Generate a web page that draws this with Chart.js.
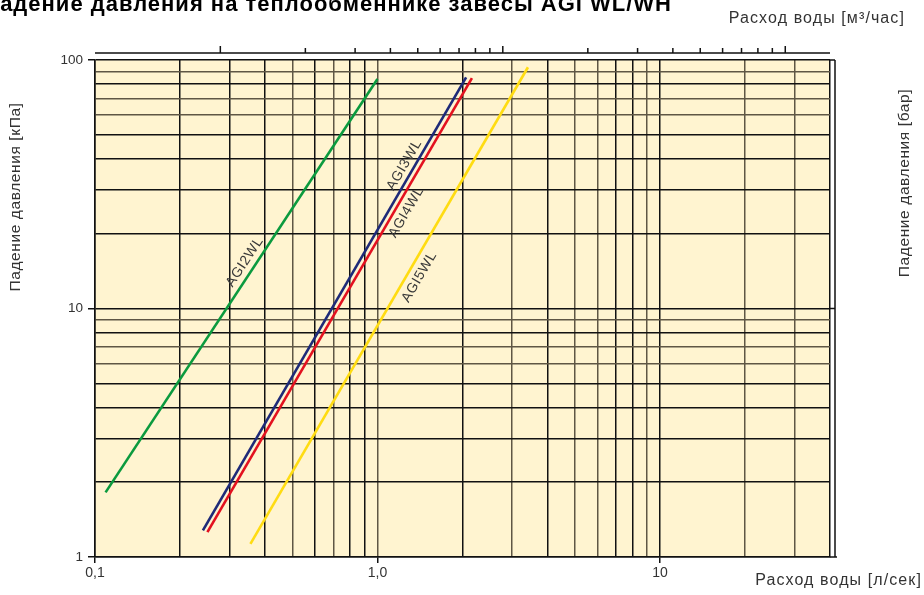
<!DOCTYPE html>
<html>
<head>
<meta charset="utf-8">
<script src="https://cdn.jsdelivr.net/npm/chart.js@4.4.1/dist/chart.umd.min.js"></script>
<style>
  html, body { margin: 0; padding: 0; background: #fff; }
  #wrap { width: 924px; height: 595px; position: relative; }
</style>
</head>
<body>
<div id="wrap"><canvas id="c" width="924" height="595"></canvas></div>
<script>
// curves: flow [l/s] vs pressure drop [kPa] (end points of straight log-log lines)
const seriesNames = ["AGI2WL", "AGI3WL", "AGI4WL", "AGI5WL"]
const seriesColors = ["#0b9a3e", "#1e2a78", "#e3111f", "#ffdc12"]
const agi2Flow = [0.109, 1.0]
const agi2Drop = [1.82, 83.9]
const agi3Flow = [0.241, 2.06]
const agi3Drop = [1.28, 85.2]
const agi4Flow = [0.250, 2.16]
const agi4Drop = [1.26, 84.6]
const agi5Flow = [0.355, 3.41]
const agi5Drop = [1.13, 93.5]

// where the curve names sit (l/s, kPa)
const labelFlow = [0.339, 1.246, 1.266, 1.408]
const labelDrop = [15.4, 37.8, 24.4, 13.4]

const xGridValues = [0.1, 0.2, 0.3, 0.4, 0.5, 0.6, 0.7, 0.8, 0.9, 1, 2, 3, 4, 5, 6, 7, 8, 9, 10, 20, 30, 40]
const yGridValues = [1, 2, 3, 4, 5, 6, 7, 8, 9, 10, 20, 30, 40, 50, 60, 70, 80, 90, 100]
const xGrayLines = [0.5, 0.7, 1, 3, 5, 6, 9, 20, 30]
const yGrayLines = [6, 7, 9, 60, 70, 90]
const xTickLabels = { "0.1": "0,1", "1": "1,0", "10": "10" }
const yTickLabels = { "1": "1", "10": "10", "100": "100" }

// top axis in m3/h
const topMajor = [1, 10, 100]
const topMinor = [2, 3, 4, 5, 6, 7, 8, 9, 20, 30, 40, 50, 60, 70, 80, 90]

const flows = [agi2Flow, agi3Flow, agi4Flow, agi5Flow]
const drops = [agi2Drop, agi3Drop, agi4Drop, agi5Drop]

const INK = "#111"
const GRAY = "#5f5644"
const TXT = "#333"
const FONT = "Liberation Sans, Arial, sans-serif"

const datasets = seriesNames.map((name, i) => ({
  label: name,
  data: flows[i].map((f, k) => ({ x: f, y: drops[i][k] })),
  borderColor: seriesColors[i],
  borderWidth: 2.6,
  pointRadius: 0,
  tension: 0,
  fill: false
}))

function spaced(ctx, px) {
  if ("letterSpacing" in ctx) ctx.letterSpacing = px + "px"
}

const decor = {
  id: "decor",
  beforeDraw(chart) {
    const { ctx, chartArea: a } = chart
    ctx.save()
    ctx.fillStyle = "#fff4d0"
    ctx.fillRect(a.left, a.top, a.right - a.left, a.bottom - a.top)
    ctx.restore()
  },
  afterDatasetsDraw(chart) {
    const { ctx } = chart
    const x = chart.scales.x, y = chart.scales.y
    ctx.save()
    ctx.fillStyle = "#3a3a3a"
    ctx.font = "14px " + FONT
    spaced(ctx, 0.6)
    ctx.textAlign = "center"
    ctx.textBaseline = "middle"
    seriesNames.forEach((name, i) => {
      const f = flows[i], d = drops[i]
      const ang = Math.atan2(y.getPixelForValue(d[1]) - y.getPixelForValue(d[0]),
                             x.getPixelForValue(f[1]) - x.getPixelForValue(f[0]))
      ctx.save()
      ctx.translate(x.getPixelForValue(labelFlow[i]), y.getPixelForValue(labelDrop[i]))
      ctx.rotate(ang)
      ctx.fillText(name, 0, 0)
      ctx.restore()
    })
    ctx.restore()
  },
  afterDraw(chart) {
    const { ctx, chartArea: a } = chart
    const x = chart.scales.x, y = chart.scales.y
    ctx.save()
    ctx.strokeStyle = INK
    ctx.lineWidth = 1.5

    // top axis, m3/h
    const topY = a.top - 7
    ctx.beginPath()
    ctx.moveTo(a.left, topY); ctx.lineTo(a.right, topY)
    topMajor.forEach(v => {
      const px = x.getPixelForValue(v / 3.6)
      ctx.moveTo(px, topY); ctx.lineTo(px, topY - 7)
    })
    topMinor.forEach(v => {
      const px = x.getPixelForValue(v / 3.6)
      ctx.moveTo(px, topY); ctx.lineTo(px, topY - 5)
    })
    ctx.stroke()

    // right axis, bar
    const rx = a.right + 5
    ctx.beginPath()
    ctx.moveTo(rx, a.top); ctx.lineTo(rx, a.bottom)
    ;[10, 100].forEach(v => {
      const py = y.getPixelForValue(v)
      ctx.moveTo(a.right, py); ctx.lineTo(rx, py)
    })
    ctx.moveTo(a.right, a.bottom); ctx.lineTo(a.right + 7, a.bottom)
    ctx.stroke()

    // titles
    ctx.fillStyle = "#000"
    ctx.font = "bold 22px " + FONT
    spaced(ctx, 1)
    ctx.textAlign = "right"
    ctx.textBaseline = "alphabetic"
    ctx.fillText("Падение давления на теплообменнике завесы AGI WL/WH", 672, 11)

    ctx.fillStyle = TXT
    ctx.font = "16px " + FONT
    spaced(ctx, 1.1)
    ctx.textAlign = "right"
    ctx.textBaseline = "middle"
    ctx.fillText("Расход воды [м³/час]", 905, 19)
    ctx.fillText("Расход воды [л/сек]", 922, 581)

    ctx.font = "15.5px " + FONT
    spaced(ctx, 0.6)
    ctx.textAlign = "center"
    ctx.save()
    ctx.translate(16, 197)
    ctx.rotate(-Math.PI / 2)
    ctx.fillText("Падение давления [кПа]", 0, 0)
    ctx.restore()
    ctx.save()
    ctx.translate(905, 183)
    ctx.rotate(-Math.PI / 2)
    ctx.fillText("Падение давления [бар]", 0, 0)
    ctx.restore()
    ctx.restore()
  }
}

new Chart(document.getElementById("c"), {
  type: "line",
  data: { datasets },
  plugins: [decor],
  options: {
    responsive: false,
    animation: false,
    layout: { padding: { top: 60, right: 94, left: 0, bottom: 0 } },
    plugins: { legend: { display: false }, tooltip: { enabled: false } },
    scales: {
      x: {
        type: "logarithmic",
        min: 0.1,
        max: 40,
        afterBuildTicks: s => { s.ticks = xGridValues.map(v => ({ value: v })) },
        afterFit: s => { s.height = 38 },
        border: { display: true, color: INK, width: 1.5 },
        grid: {
          color: c => xGrayLines.includes(c.tick && c.tick.value) ? GRAY : INK,
          lineWidth: 1.5,
          tickLength: 6,
          tickColor: c => (c.tick && xTickLabels[String(c.tick.value)]) ? INK : "rgba(0,0,0,0)",
          tickWidth: 1.5
        },
        ticks: {
          autoSkip: false,
          maxRotation: 0,
          padding: 2,
          color: TXT,
          font: { family: FONT, size: 14 },
          callback: v => xTickLabels[String(v)] || ""
        }
      },
      y: {
        type: "logarithmic",
        min: 1,
        max: 100,
        afterBuildTicks: s => { s.ticks = yGridValues.map(v => ({ value: v })) },
        afterFit: s => { s.width = 95 },
        border: { display: true, color: INK, width: 1.5 },
        grid: {
          color: c => yGrayLines.includes(c.tick && c.tick.value) ? GRAY : INK,
          lineWidth: 1.5,
          tickLength: 7,
          tickColor: c => (c.tick && yTickLabels[String(c.tick.value)]) ? INK : "rgba(0,0,0,0)",
          tickWidth: 1.5
        },
        ticks: {
          autoSkip: false,
          padding: 5,
          color: TXT,
          font: { family: FONT, size: 13.5 },
          callback: v => yTickLabels[String(v)] || ""
        }
      }
    }
  }
})
</script>
</body>
</html>
